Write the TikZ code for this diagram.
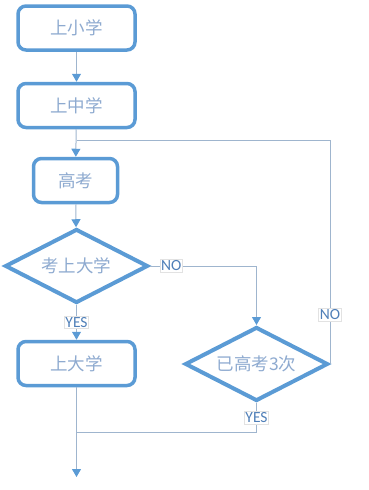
\documentclass[tikz,border=0pt]{standalone}
\usepackage{fontspec}
\setmainfont{Carlito}
\newfontfamily\cjk{Noto Sans CJK SC}
\usepackage{tikz}
\usetikzlibrary{arrows.meta,positioning,calc,shapes.geometric}
\definecolor{edge}{HTML}{5B9BD5}
\definecolor{ink}{HTML}{8EAAD0}
\definecolor{wire}{HTML}{9FB5CE}
\definecolor{tag}{HTML}{4F7FB8}
\definecolor{tagrule}{HTML}{E2E2E2}
\tikzset{
  stepbox/.style={draw=edge,line width=3.5pt,rounded corners=8pt,fill=white,
    minimum width=117pt,minimum height=44pt,inner sep=0pt,align=center,
    font=\cjk\fontsize{17.5}{20}\selectfont,text=ink},
  stepnarrow/.style={stepbox,minimum width=84pt},
  decide/.style={diamond,draw=edge,line width=4pt,fill=white,aspect=1.88,
    minimum width=143pt,minimum height=74pt,inner sep=0pt,align=center,
    font=\cjk\fontsize{17.5}{20}\selectfont,text=ink},
  wire/.style={draw=wire,line width=1pt},
  flow/.style={wire,-{Triangle[length=8pt,width=9pt,color=edge]}},
  flag/.style={draw=tagrule,line width=0.5pt,fill=white,inner sep=1.2pt,
    font=\fontsize{15.5}{16}\selectfont,text=tag},
}
\begin{document}
\begin{tikzpicture}[x=1pt,y=-1pt]
  \useasboundingbox (0,0) rectangle (368,490);
  % --- main column ---
  \node[stepbox](primary) at (76.5,28){上小学};
  \node[stepbox](middle) at (76.5,105.5){上中学};
  \node[stepnarrow](exam) at (75.5,180.5){高考};
  \node[decide](admit) at (76.5,266){考上大学};
  \node[stepbox](college) at (76.5,363.5){上大学};
  % --- retry branch ---
  \node[decide](thrice) at (256.5,364){已高考3次};
  \coordinate (join) at (76.5,140);
  \coordinate (merge) at (76.5,432);
  \coordinate (out) at (76.5,477);
  \draw[flow](primary)--(middle);
  \draw[flow](middle)--(exam);
  \draw[flow](exam)--(admit);
  \draw[flow](admit)--node[flag]{YES}(college);
  \draw[flow](admit.east)-|node[flag,pos=0.1]{NO}(thrice.north);
  \draw[wire](thrice.east)|-node[flag,pos=0.11]{NO}(join);
  \draw[wire](thrice.south)|-node[flag,pos=0.25]{YES}(merge);
  \draw[flow](college)--(out);
\end{tikzpicture}
\end{document}
